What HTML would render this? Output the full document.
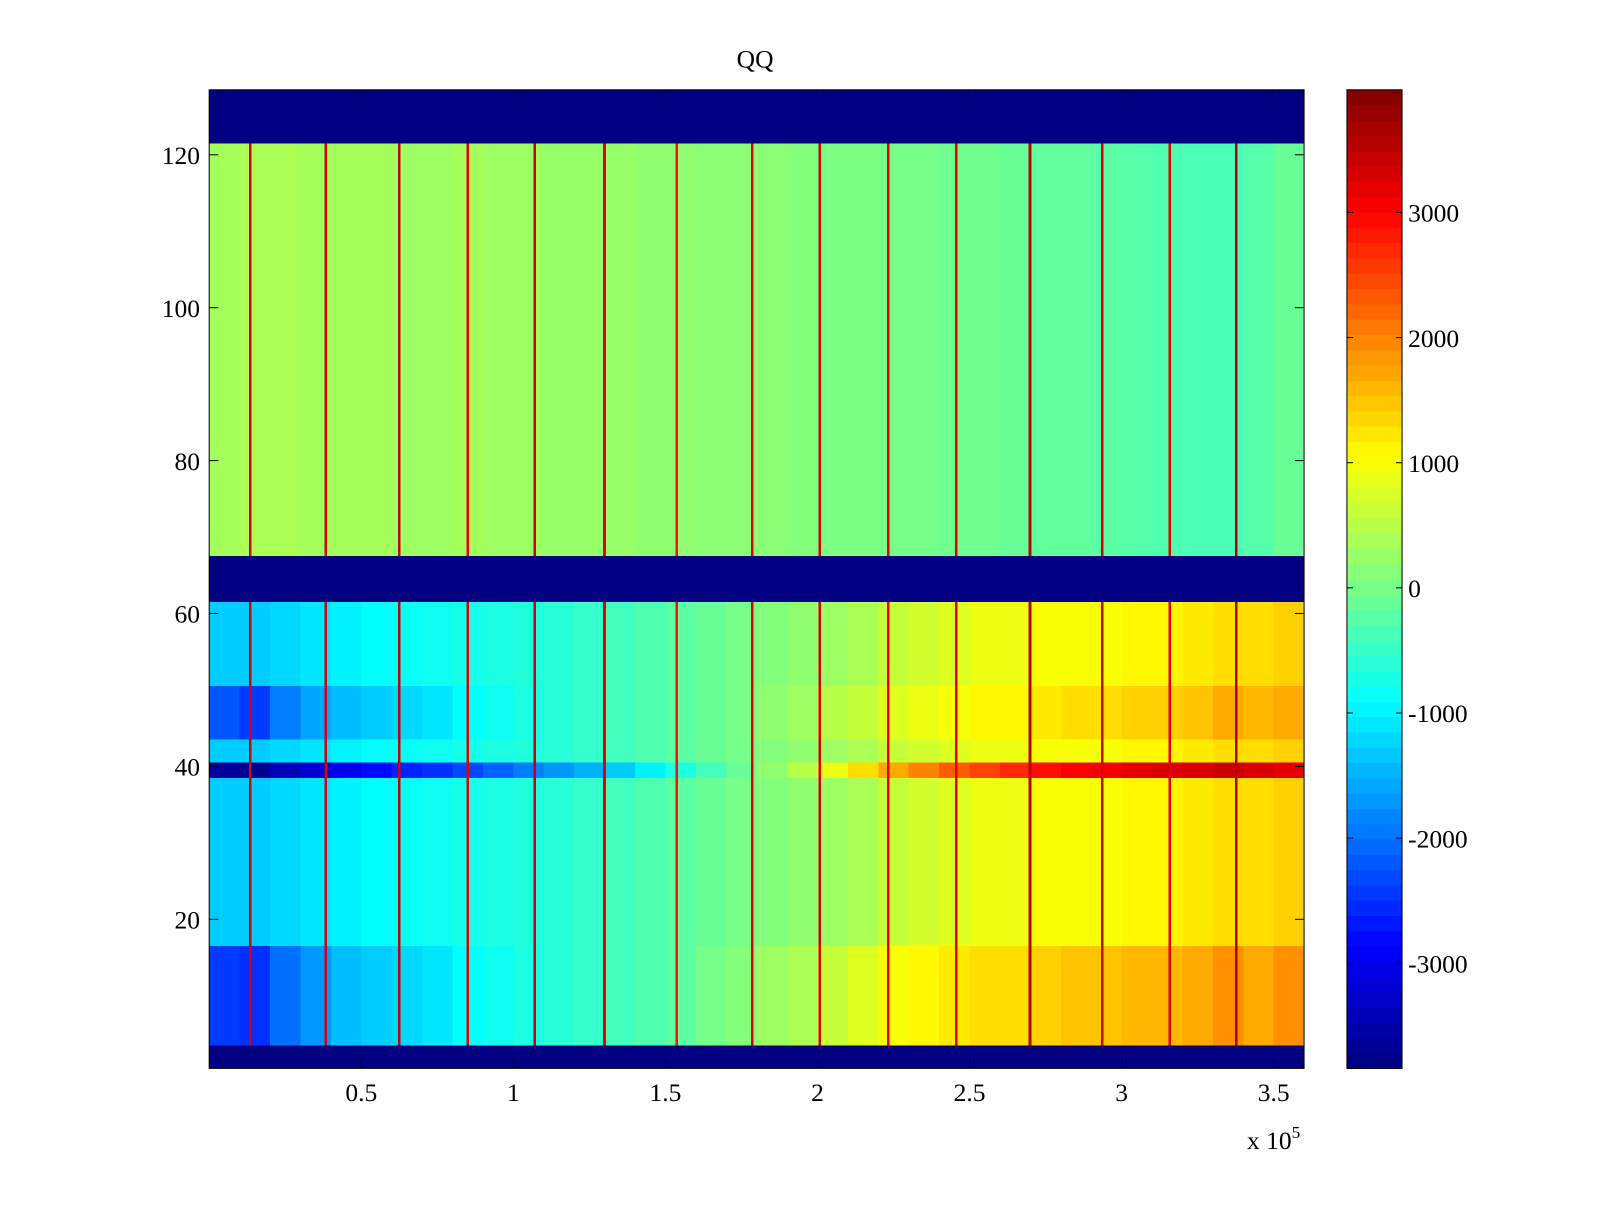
<!DOCTYPE html>
<html><head><meta charset="utf-8"><style>
html,body{margin:0;padding:0;background:#fff;}
svg text{font-family:"Liberation Serif",serif;font-size:25px;fill:#000;}
</style></head><body>
<svg id="fig" width="1600" height="1200" viewBox="0 0 1568 1176" xmlns="http://www.w3.org/2000/svg">
<rect width="1568" height="1176" fill="#fff"/>
<text x="740" y="66" text-anchor="middle">QQ</text>
<g id="plot"></g>
<g id="cbar"></g>
<g id="axes"></g>
<text x="1222" y="1126">x 10<tspan dy="-11" font-size="17">5</tspan></text>
</svg>
<script>
// ---- data ----
const xBinStarts = [0,1,2,3,4,5,6,7,8,9,10,11,12,13,14,15,16,17,18,19,20,21,22,23,24,25,26,27,28,29,30,31,32,33,34,35];
const topBand = [350,400,400,350,350,350,300,300,350,300,300,250,250,250,200,200,150,150,150,100,50,50,0,0,-50,-50,-100,-150,-150,-200,-250,-300,-350,-350,-250,-100];
const midBand = [-1300,-1300,-1200,-1100,-1000,-900,-850,-800,-750,-700,-650,-600,-500,-400,-300,-200,-100,0,100,200,300,400,600,700,800,900,900,1000,1000,1000,1100,1100,1200,1300,1300,1400];
const lowRows = [-2400,-2500,-2000,-1700,-1400,-1300,-1200,-1100,-900,-800,-700,-600,-500,-400,-300,-200,0,100,300,400,600,800,1000,1100,1200,1300,1300,1400,1500,1500,1600,1600,1700,1900,1700,1900];
const rows44to50 = [-2200,-2400,-1900,-1600,-1400,-1300,-1200,-1100,-900,-800,-700,-600,-500,-400,-300,-200,-100,0,200,300,500,600,800,900,1000,1100,1100,1200,1300,1300,1400,1400,1500,1700,1600,1700];
const row39 = [-3600,-3700,-3400,-3200,-3000,-2800,-2600,-2500,-2300,-2100,-1900,-1700,-1500,-1300,-1000,-700,-400,-100,200,500,900,1300,1700,2000,2300,2500,2700,2900,3000,3100,3200,3300,3300,3400,3300,3200];
const segments = [
 {name:'top-band', r0:68, r1:121, vals:topBand},
 {name:'lower-main', r0:4, r1:61, vals:midBand},
 {name:'low-rows', r0:4, r1:16, vals:lowRows},
 {name:'rows-44-50', r0:44, r1:50, vals:rows44to50},
 {name:'row-39', r0:39, r1:40, vals:row39}
];
const emptyRows = [[1,3],[62,67],[122,128]];
const stripeX = [0.134,0.383,0.624,0.849,1.070,1.299,1.537,1.785,2.007,2.232,2.456,2.698,2.936,3.158,3.376];
const stripeVal = [3300,3300,3400,3200,3400,3200,2900,3200,3300,3200,3200,3500,3300,3200,3600];
const xTicks = [0.5,1,1.5,2,2.5,3,3.5];
const yTicks = [20,40,60,80,100,120];
const cTicks = [-3000,-2000,-1000,0,1000,2000,3000];
const cMin = -3840, cMax = 3980;

// ---- scales ----
const PX0=205, PX1=1278, PY0=88, PY1=1047;
const X0=0, X1=3.6, Y0=0.5, Y1=128.5;
const sx = v => PX0 + (v-X0)/(X1-X0)*(PX1-PX0);
const sy = v => PY1 - (v-Y0)/(Y1-Y0)*(PY1-PY0);
function jet(v){
  let t=(v-cMin)/(cMax-cMin); t=Math.max(0,Math.min(1,t));
  const f=x=>Math.round(255*Math.max(0,Math.min(1,x)));
  return `rgb(${f(1.5-Math.abs(4*t-3))},${f(1.5-Math.abs(4*t-2))},${f(1.5-Math.abs(4*t-1))})`;
}
const NS='http://www.w3.org/2000/svg';
const plot=document.getElementById('plot');
function rect(g,x,y,w,h,fill){const r=document.createElementNS(NS,'rect');
 r.setAttribute('x',x);r.setAttribute('y',y);r.setAttribute('width',w);r.setAttribute('height',h);
 r.setAttribute('fill',fill);r.setAttribute('shape-rendering','crispEdges');g.appendChild(r);return r;}

rect(plot,PX0,PY0,PX1-PX0,PY1-PY0,jet(cMin));
segments.forEach(s=>{
  xBinStarts.forEach((b,i)=>{
    const x0=sx(b/10), x1=sx(Math.min(X1,(b+1)/10));
    const y0=sy(s.r1+0.5), y1=sy(s.r0-0.5);
    const r=rect(plot,x0,y0,x1-x0+0.5,y1-y0,jet(s.vals[i]));
    
    
  });
});
emptyRows.forEach(e=>{
  const r=rect(plot,PX0,sy(e[1]+0.5),PX1-PX0,sy(e[0]-0.5)-sy(e[1]+0.5),jet(cMin));
  
  
});
stripeX.forEach((x,i)=>{
  [[4,61],[68,121]].forEach(rg=>{
    const r=rect(plot,sx(x)-1,sy(rg[1]+0.5),2.5,sy(rg[0]-0.5)-sy(rg[1]+0.5),jet(stripeVal[i]));
    
    
  });
});

// axes
const ax=document.getElementById('axes');
function line(g,x1,y1,x2,y2){const l=document.createElementNS(NS,'line');
 l.setAttribute('x1',x1);l.setAttribute('y1',y1);l.setAttribute('x2',x2);l.setAttribute('y2',y2);
 l.setAttribute('stroke','#000');l.setAttribute('stroke-width','1');g.appendChild(l);return l;}
function text(g,x,y,s,anchor){const t=document.createElementNS(NS,'text');
 t.setAttribute('x',x);t.setAttribute('y',y);t.setAttribute('text-anchor',anchor);t.textContent=s;g.appendChild(t);return t;}
const fr=document.createElementNS(NS,'rect');
fr.setAttribute('x',PX0);fr.setAttribute('y',PY0);fr.setAttribute('width',PX1-PX0);fr.setAttribute('height',PY1-PY0);
fr.setAttribute('fill','none');fr.setAttribute('stroke','#000');ax.appendChild(fr);


xTicks.forEach(v=>{const x=sx(v);line(ax,x,PY1,x,PY1-9);line(ax,x,PY0,x,PY0+9);
 const t=text(ax,x,1079,String(v),'middle');
 
 });
yTicks.forEach(v=>{const y=sy(v);line(ax,PX0,y,PX0+9,y);line(ax,PX1,y,PX1-9,y);
 const t=text(ax,196,y+9,String(v),'end');
 
 });

// colorbar
const cb=document.getElementById('cbar');
const CX0=1320, CX1=1374;
const cy=v=>PY1-(v-cMin)/(cMax-cMin)*(PY1-PY0);
const N=64;
for(let i=0;i<N;i++){const v0=cMin+(cMax-cMin)*i/N, v1=cMin+(cMax-cMin)*(i+1)/N;
 rect(cb,CX0,cy(v1),CX1-CX0,cy(v0)-cy(v1)+0.5,jet((v0+v1)/2));}
const cf=document.createElementNS(NS,'rect');
cf.setAttribute('x',CX0);cf.setAttribute('y',PY0);cf.setAttribute('width',CX1-CX0);cf.setAttribute('height',PY1-PY0);
cf.setAttribute('fill','none');cf.setAttribute('stroke','#000');cb.appendChild(cf);
cTicks.forEach(v=>{const y=cy(v);line(cb,CX0,y,CX0+6,y);line(cb,CX1,y,CX1-6,y);
 const t=text(cb,1380,y+9,String(v),'start');
 
 });
</script>
</body></html>
